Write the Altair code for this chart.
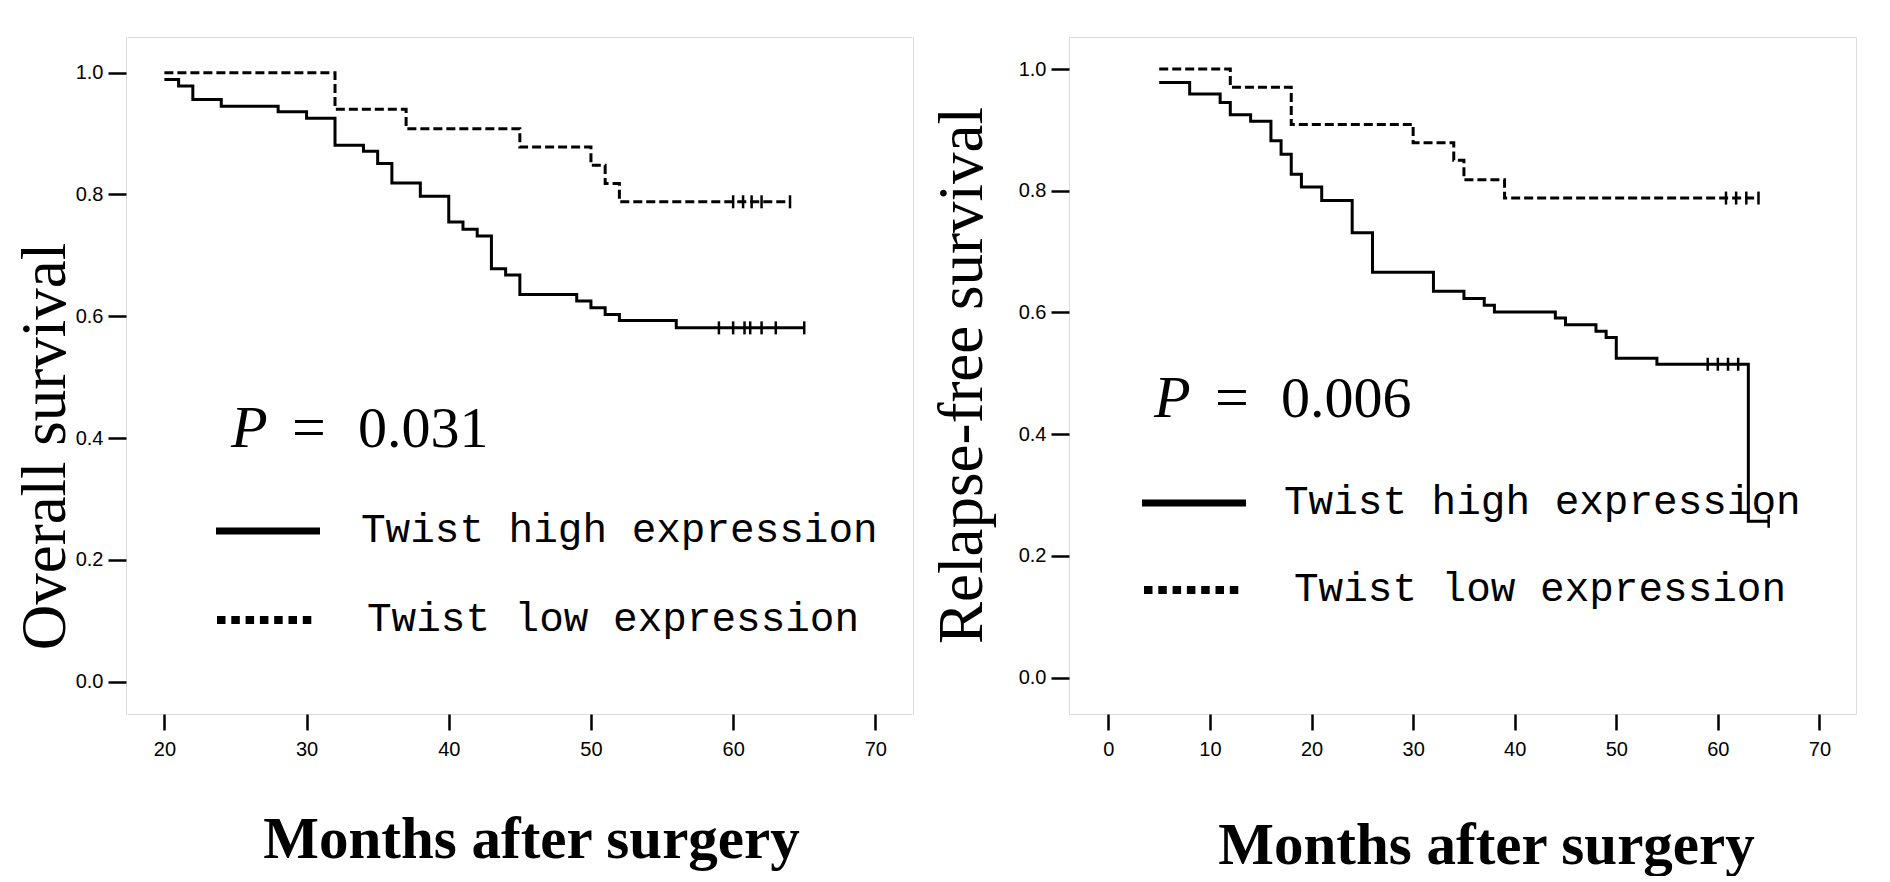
import altair as alt
import pandas as pd

# ---------------- data ----------------
# Left panel: overall survival
os_high_t = [20, 21, 22, 24, 28, 30, 32, 34, 35, 36, 38, 40, 41, 42, 43, 44, 45, 49, 50, 51, 52, 56, 65]
os_high_s = [0.989, 0.978, 0.956, 0.945, 0.936, 0.925, 0.881, 0.871, 0.851, 0.819, 0.797, 0.755,
             0.743, 0.732, 0.678, 0.668, 0.636, 0.625, 0.614, 0.603, 0.593, 0.581, 0.581]
os_high_cens = [59, 60, 60.8, 61.2, 62, 63, 65]
os_low_t = [20, 32, 37, 45, 50, 51, 52, 64]
os_low_s = [1.0, 0.940, 0.908, 0.878, 0.848, 0.818, 0.788, 0.788]
os_low_cens = [60, 60.7, 61.3, 62, 64]

# Right panel: relapse-free survival
rfs_high_t = [5, 8, 11, 12, 14, 16, 17, 18, 19, 21, 24, 26, 32, 35, 37, 38, 44, 45, 48, 49, 50, 54, 63, 65]
rfs_high_s = [0.978, 0.959, 0.945, 0.925, 0.914, 0.882, 0.860, 0.827, 0.806, 0.784, 0.731, 0.666,
              0.635, 0.623, 0.612, 0.601, 0.591, 0.580, 0.569, 0.559, 0.525, 0.515, 0.257, 0.257]
rfs_high_cens = [59, 60, 61, 62, 65]
rfs_low_t = [5, 12, 18, 30, 34, 35, 39, 64]
rfs_low_s = [1.0, 0.970, 0.909, 0.879, 0.850, 0.818, 0.788, 0.788]
rfs_low_cens = [60.8, 61.8, 62.8, 64]

y_ticks = [0.0, 0.2, 0.4, 0.6, 0.8, 1.0]
os_x_ticks = [20, 30, 40, 50, 60, 70]
rfs_x_ticks = [0, 10, 20, 30, 40, 50, 60, 70]

legend_high = "Twist high expression"
legend_low = "Twist low expression"
x_title = "Months after surgery"


def step_value(ts, ss, t):
    v = ss[0]
    for ti, si in zip(ts, ss):
        if ti <= t:
            v = si
    return v


W, H = 787, 677
BLACK = "black"


def panel(high_t, high_s, high_c, low_t, low_s, low_c, xdom, ydom, xticks,
          ytitle, ytx, yty, xtx, xty, pval, pos):
    high = pd.DataFrame({"t": high_t, "s": high_s})
    low = pd.DataFrame({"t": low_t, "s": low_s})
    cens = pd.DataFrame({
        "t": list(high_c) + list(low_c),
        "s": [step_value(high_t, high_s, c) for c in high_c] + [step_value(low_t, low_s, c) for c in low_c],
    })

    x = alt.X("t:Q", scale=alt.Scale(domain=xdom, nice=False, zero=False),
              axis=alt.Axis(values=xticks, format="d", title=x_title,
                            titleFont="Liberation Serif", titleFontSize=59, titleFontWeight="bold",
                            titleColor=BLACK, titleX=xtx, titleY=xty, titleBaseline="alphabetic",
                            titleAlign="center", labelFont="Liberation Sans", labelFontSize=20,
                            labelColor=BLACK, labelPadding=9, tickSize=16, tickWidth=2.5,
                            tickColor=BLACK, domain=False, grid=False, labelFlush=False))
    y = alt.Y("s:Q", scale=alt.Scale(domain=ydom, nice=False, zero=False),
              axis=alt.Axis(values=y_ticks, format=".1f", title=ytitle,
                            titleFont="Liberation Serif", titleFontSize=63, titleFontWeight="normal",
                            titleColor=BLACK, titleAngle=270, titleX=ytx, titleY=yty,
                            titleBaseline="alphabetic", titleAlign="center",
                            labelFont="Liberation Sans", labelFontSize=20, labelColor=BLACK,
                            labelPadding=5, tickSize=18, tickWidth=2.5, tickColor=BLACK,
                            domain=False, grid=False, labelFlush=False))

    l_high = alt.Chart(high).mark_line(interpolate="step-after", color=BLACK, strokeWidth=3).encode(x=x, y=y)
    l_low = alt.Chart(low).mark_line(interpolate="step-after", color=BLACK, strokeWidth=3,
                                     strokeDash=[9, 4]).encode(x=x, y=y)
    c_pts = alt.Chart(cens).mark_point(shape="M0,-1L0,1", size=169, strokeWidth=2.5, color=BLACK,
                                       filled=False, opacity=1).encode(x=x, y=y)

    one = pd.DataFrame({"a": [0]})
    serif = dict(font="Liberation Serif", color=BLACK, align="left", baseline="alphabetic")
    mono = dict(font="Liberation Mono", fontSize=41, color=BLACK, align="left", baseline="alphabetic")

    p_it = alt.Chart(one).mark_text(text="P", fontSize=60, fontStyle="italic", **serif).encode(
        x=alt.value(pos["px"]), y=alt.value(pos["py"]))
    p_eq = alt.Chart(one).mark_text(text="=", fontSize=60, **serif).encode(
        x=alt.value(pos["px"] + 61), y=alt.value(pos["py"]))
    p_num = alt.Chart(one).mark_text(text=pval, fontSize=58, **serif).encode(
        x=alt.value(pos["px"] + 127), y=alt.value(pos["py"]))

    r1 = alt.Chart(one).mark_rule(color=BLACK, strokeWidth=7, strokeCap="butt").encode(
        x=alt.value(pos["l1x"]), x2=alt.value(pos["l1x"] + 104), y=alt.value(pos["l1y"]))
    t1 = alt.Chart(one).mark_text(text=legend_high, **mono).encode(
        x=alt.value(pos["t1x"]), y=alt.value(pos["l1y"] + 11))
    r2 = alt.Chart(one).mark_rule(color=BLACK, strokeWidth=8, strokeCap="butt",
                                  strokeDash=[8.5, 5.8]).encode(
        x=alt.value(pos["l2x"]), x2=alt.value(pos["l2x"] + 100), y=alt.value(pos["l2y"]))
    t2 = alt.Chart(one).mark_text(text=legend_low, **mono).encode(
        x=alt.value(pos["t2x"]), y=alt.value(pos["l2y"] + 11))

    return alt.layer(l_high, l_low, c_pts, p_it, p_eq, p_num, r1, t1, r2, t2).properties(
        width=W, height=H)


left = panel(os_high_t, os_high_s, os_high_cens, os_low_t, os_low_s, os_low_cens,
             [17.3, 72.65], [-0.053, 1.0586], os_x_ticks,
             "Overall survival", -62, 409, 405, 143, "0.031",
             dict(px=105, py=410, l1x=90, l1y=494, t1x=235, l2x=91, l2y=583, t2x=241))

right = panel(rfs_high_t, rfs_high_s, rfs_high_cens, rfs_low_t, rfs_low_s, rfs_low_cens,
              [-3.88, 73.6], [-0.0596, 1.0526], rfs_x_ticks,
              "Relapse-free survival", -88, 338, 417, 149, "0.006",
              dict(px=85, py=380, l1x=73, l1y=466, t1x=215, l2x=75, l2y=553, t2x=225))

chart = alt.hconcat(left, right, spacing=156, bounds="flush").properties(
    padding={"left": 5, "top": 28, "right": 0, "bottom": 0}
).configure_view(stroke=BLACK, strokeWidth=2.5).configure(background="white")

chart.save("out.html", embed_options={"renderer": "svg", "actions": False})
